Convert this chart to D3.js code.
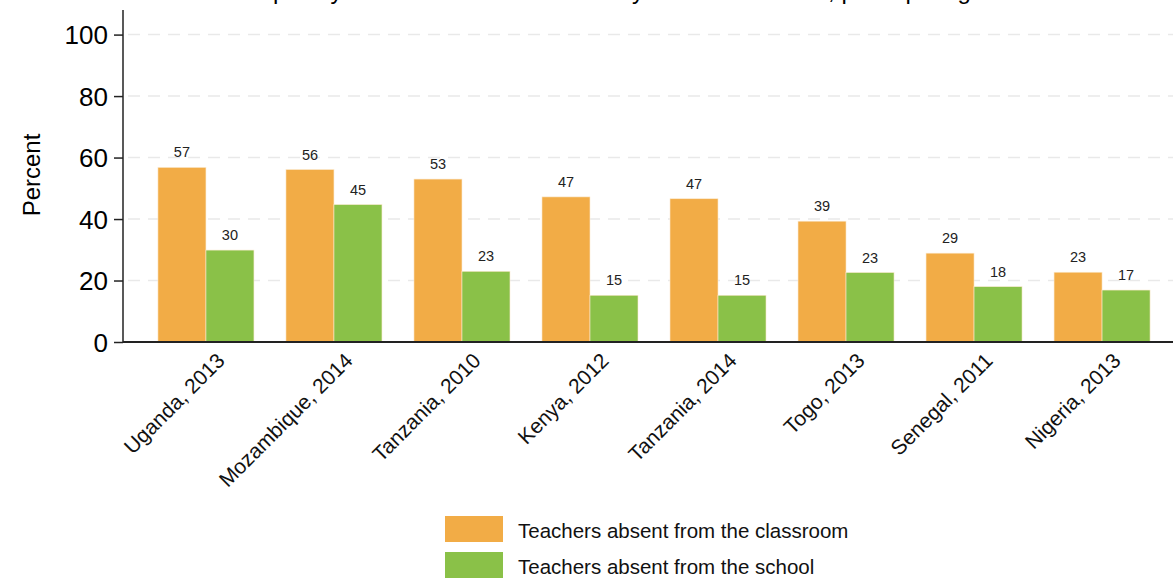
<!DOCTYPE html>
<html>
<head>
<meta charset="utf-8">
<script src="https://cdn.jsdelivr.net/npm/d3@7"></script>
<style>
  body { margin: 0; background: #fff; }
  svg { display: block; font-family: "Liberation Sans", Arial, sans-serif; }
</style>
</head>
<body>
<svg id="chart" width="1173" height="579"></svg>
<script>
const categories = ["Uganda, 2013", "Mozambique, 2014", "Tanzania, 2010", "Kenya, 2012",
  "Tanzania, 2014", "Togo, 2013", "Senegal, 2011", "Nigeria, 2013"];
const classroomAbsence = [56.8, 56.1, 53.0, 47.2, 46.6, 39.3, 28.9, 22.7];
const schoolAbsence = [29.9, 44.7, 23.0, 15.2, 15.2, 22.6, 18.0, 16.9];
const seriesNames = ["Teachers absent from the classroom", "Teachers absent from the school"];
const yTicks = [0, 20, 40, 60, 80, 100];
const titleText = "Frequency of teacher absence in many African countries, participating countries";

const colors = ["#F2AC46", "#8AC148"];
const svg = d3.select("#chart");

const y = d3.scaleLinear().domain([0, 108]).range([342, 10]);
const x0 = d3.scaleBand().domain(categories).range([123, 1185]).paddingInner(0.25).paddingOuter(0.273);
const x1 = d3.scaleBand().domain([0, 1]).range([0, x0.bandwidth()]);

// title (cropped at top, as in the reference)
svg.append("text").attr("x", 652).attr("y", -1).attr("text-anchor", "middle")
  .attr("font-size", 24).attr("fill", "#000").text(titleText);

// grid
svg.append("g").selectAll("line").data(yTicks.filter(d => d > 0)).join("line")
  .attr("x1", 128).attr("x2", 1173)
  .attr("y1", d => y(d)).attr("y2", d => y(d))
  .attr("stroke", "#e9e9e9").attr("stroke-width", 1.5).attr("stroke-dasharray", "12,8");

// bars
const data = categories.map((c, i) => ({ c, vals: [classroomAbsence[i], schoolAbsence[i]] }));
const groups = svg.append("g").selectAll("g").data(data).join("g")
  .attr("transform", d => `translate(${x0(d.c)},0)`);
groups.selectAll("rect").data(d => d.vals.map((v, k) => ({ v, k }))).join("rect")
  .attr("x", d => x1(d.k)).attr("width", x1.bandwidth())
  .attr("y", d => y(d.v)).attr("height", d => y(0) - y(d.v))
  .attr("fill", d => colors[d.k]).attr("stroke", "#fbe9cf").attr("stroke-width", 0.6);
groups.selectAll("text").data(d => d.vals.map((v, k) => ({ v, k }))).join("text")
  .attr("x", d => x1(d.k) + x1.bandwidth() / 2).attr("y", d => y(d.v) - 10)
  .attr("text-anchor", "middle").attr("font-size", 14.5).attr("fill", "#222")
  .text(d => Math.round(d.v));

// y axis
const yAxis = svg.append("g").attr("transform", "translate(123,0)")
  .call(d3.axisLeft(y).tickValues(yTicks).tickSize(9).tickPadding(6));
yAxis.select(".domain").attr("d", `M0,${y(108)}V${y(0)}`).attr("stroke", "#222").attr("stroke-width", 1.5);
yAxis.selectAll(".tick line").attr("stroke", "#222").attr("stroke-width", 1.5);
yAxis.selectAll(".tick text").attr("font-size", 26).attr("fill", "#000").attr("dy", "0.36em")
  .attr("font-family", "Liberation Sans, Arial, sans-serif");

// x axis
const xAxis = svg.append("g").attr("transform", `translate(0,${y(0)})`)
  .call(d3.axisBottom(x0).tickSize(0).tickPadding(0));
xAxis.select(".domain").attr("d", "M123,0H1173").attr("stroke", "#222").attr("stroke-width", 2);
xAxis.selectAll(".tick text")
  .attr("font-size", 21).attr("fill", "#111").attr("font-family", "Liberation Sans, Arial, sans-serif")
  .attr("text-anchor", "end").attr("dy", 0).attr("y", 0)
  .attr("transform", "translate(20,20) rotate(-45)");

// y label
svg.append("text").attr("transform", "translate(40,175) rotate(-90)")
  .attr("text-anchor", "middle").attr("font-size", 24).attr("fill", "#000").text("Percent");

// legend
const leg = svg.append("g").selectAll("g").data(seriesNames).join("g")
  .attr("transform", (d, i) => `translate(445,${516 + i * 36})`);
leg.append("rect").attr("width", 58).attr("height", 26).attr("fill", (d, i) => colors[i]);
leg.append("text").attr("x", 73).attr("y", 15).attr("dy", "0.35em")
  .attr("font-size", 20.5).attr("fill", "#111").text(d => d);
</script>
</body>
</html>
